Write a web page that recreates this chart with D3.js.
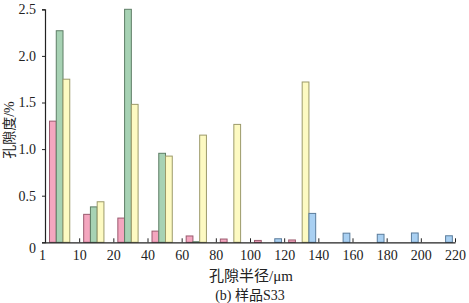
<!DOCTYPE html>
<html><head><meta charset="utf-8">
<script src="https://cdn.jsdelivr.net/npm/d3@7"></script>
<style>
html,body{margin:0;padding:0;background:#fff;}
svg{display:block;}
</style></head>
<body>
<svg id="c" width="469" height="303"></svg>
<script>
// bins between successive tick labels
const tickLabels = ["1","10","20","40","60","80","100","120","140","160","180","200","220"];
const bins = ["1-10","10-20","20-40","40-60","60-80","80-100","100-120","120-140","140-160","160-180","180-200","200-220"];
const seriesNames = ["pink","green","yellow","blue"];
const pinkVals   = [1.30, 0.30, 0.26, 0.12, 0.068, 0.035, 0.02, 0.025, null, null, null, null];
const greenVals  = [2.27, 0.38, 2.50, 0.955, 0.006, null, null, null, null, null, null, null];
const yellowVals = [1.75, 0.435, 1.48, 0.925, 1.15, 1.265, null, 1.72, null, null, null, null];
const blueVals   = [null, null, null, null, null, null, 0.038, 0.31, 0.098, 0.086, 0.10, 0.07];
const yTicks = [0, 0.5, 1.0, 1.5, 2.0, 2.5];

const FONT = "Liberation Serif, Noto Sans CJK SC, serif";
const fills = {pink:"#f4a6bf", green:"#a7d2b4", yellow:"#fdfac2", blue:"#a9d0f2"};
const strokes = {pink:"#9a5a6e", green:"#5e7e66", yellow:"#9c9a6a", blue:"#5a7c9c"};
const valuesBy = {pink:pinkVals, green:greenVals, yellow:yellowVals, blue:blueVals};

const svg = d3.select("#c");
const x0 = 45, x1 = 455, yTop = 9.3, yBot = 242.3;

const x = d3.scaleBand().domain(bins).range([x0, x1]).padding(0);
const xTick = d3.scalePoint().domain(tickLabels).range([x0, x1]);
const xs = d3.scaleBand().domain(seriesNames).range([0, x.bandwidth()])
  .paddingInner(0).paddingOuter(0.53).align(0.63);
const y = d3.scaleLinear().domain([0, 2.5]).range([yBot, yTop]);

// bars
const data = [];
bins.forEach((b, i) => seriesNames.forEach(s => {
  const v = valuesBy[s][i];
  if (v != null) data.push({bin:b, s, v});
}));
svg.append("g").selectAll("rect").data(data).join("rect")
  .attr("x", d => x(d.bin) + xs(d.s))
  .attr("width", xs.bandwidth())
  .attr("y", d => y(d.v))
  .attr("height", d => y(0) - y(d.v))
  .attr("fill", d => fills[d.s])
  .attr("stroke", d => strokes[d.s])
  .attr("stroke-width", 1);

// y axis
const yAxis = svg.append("g").attr("transform", `translate(${x0},0)`)
  .call(d3.axisLeft(y).tickValues(yTicks).tickSize(3).tickPadding(6)
    .tickFormat(d => d === 0 ? "0" : d.toFixed(1)));
yAxis.attr("font-family", FONT).attr("font-size", 14);
yAxis.select(".domain").attr("stroke", "#222").attr("stroke-width", 1.2);
yAxis.selectAll(".tick line").attr("stroke", "#222");
yAxis.selectAll(".tick text").attr("font-family", FONT).attr("font-size", 14).attr("fill", "#222");
yAxis.selectAll(".tick").filter(d => d === 0).select("text").attr("dy", "0.7em");

// x axis
const xAxis = svg.append("g").attr("transform", `translate(0,${yBot})`)
  .call(d3.axisBottom(xTick).tickSize(-4).tickPadding(8).tickSizeOuter(0));
xAxis.attr("font-family", FONT).attr("font-size", 14);
xAxis.select(".domain").attr("stroke", "#222").attr("stroke-width", 1.2);
xAxis.selectAll(".tick line").attr("stroke", "#222");
xAxis.selectAll(".tick text").attr("font-family", FONT).attr("font-size", 14).attr("fill", "#222");
xAxis.selectAll(".tick").filter(d => d === "1").select("text").attr("dx", "-3");

// titles
svg.append("text").attr("transform", "translate(14,130) rotate(-90)")
  .attr("text-anchor", "middle").attr("font-size", 14).attr("font-family", FONT)
  .attr("fill", "#222").text("孔隙度/%");
svg.append("text").attr("x", 251).attr("y", 281)
  .attr("text-anchor", "middle").attr("font-size", 15).attr("font-family", FONT)
  .attr("fill", "#222").text("孔隙半径/μm");
svg.append("text").attr("x", 250).attr("y", 300)
  .attr("text-anchor", "middle").attr("font-size", 14).attr("font-family", FONT)
  .attr("fill", "#222").text("(b) 样品S33");
</script>
</body></html>
